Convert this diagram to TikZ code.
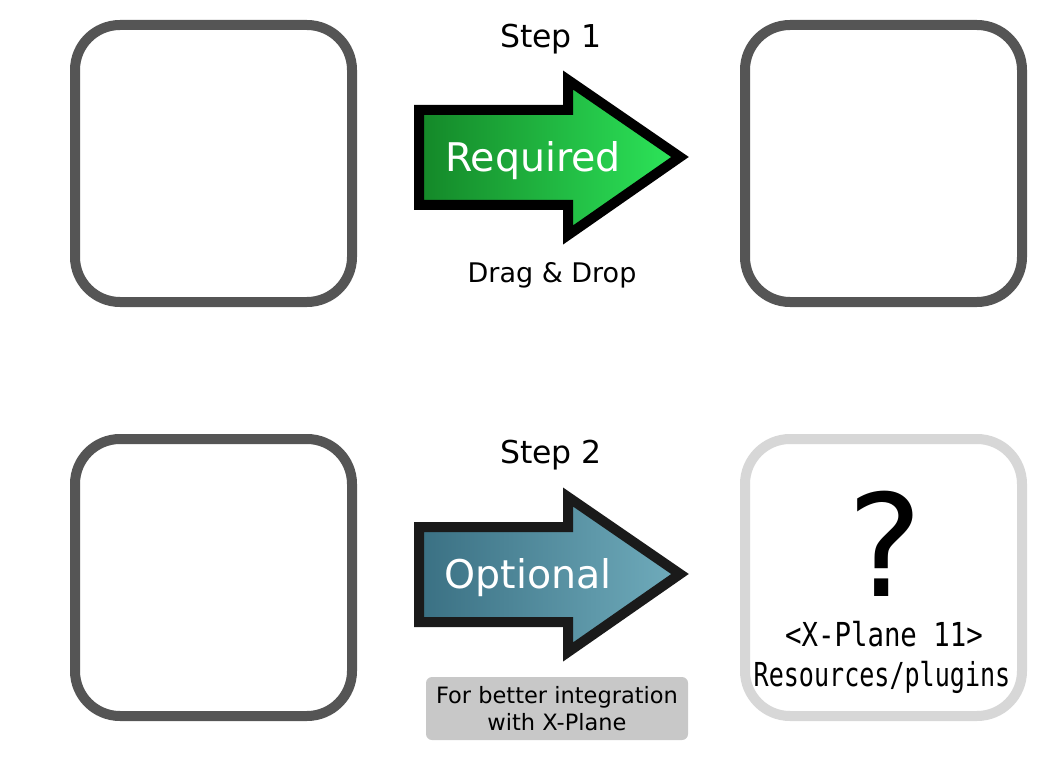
\documentclass[tikz,border=0pt]{standalone}
\usepackage{fontspec}
\setmainfont{DejaVu Sans}
\newfontfamily\dirfont[FakeStretch=0.76]{DejaVu Sans Mono}
\newfontfamily\dirfontwide[FakeStretch=0.83]{DejaVu Sans Mono}
\definecolor{boxgray}{HTML}{555555}
\definecolor{boxlight}{HTML}{D7D7D7}
\definecolor{notegray}{HTML}{C8C8C8}
\definecolor{reqdark}{RGB}{20,135,40}
\definecolor{reqlight}{RGB}{45,230,90}
\definecolor{optdark}{RGB}{58,112,131}
\definecolor{optlight}{RGB}{112,172,188}
\definecolor{optline}{HTML}{1A1A1A}

\begin{document}
\begin{tikzpicture}[x=1pt,y=-1pt,
  panel/.style={draw=boxgray,fill=white,line width=10pt,rounded corners=45pt,minimum size=277pt},
  bigarrow/.style={line width=10pt,miter limit=10},
  steplabel/.style={anchor=base,font=\fontsize{31.5}{36}\selectfont},
  arrowtext/.style={anchor=base,text=white,font=\fontsize{39.5}{46}\selectfont},
  dirlabel/.style={anchor=base,inner sep=0pt,text height=25pt,text depth=7pt}]
\useasboundingbox (0,0) rectangle (1063,762);
% the four folders
\node[panel] (src1) at (213.5,163.5) {};
\node[panel] (dst1) at (883.5,163.5) {};
\node[panel] (src2) at (213.5,577.5) {};
\node[panel,draw=boxlight] (dst2) at (883.5,577.5) {};
% step 1 -- green arrow
\draw[bigarrow,draw=black,left color=reqdark,right color=reqlight]
  (419,110) -- (568,110) -- (568,80) -- (680,157) -- (568,235) -- (568,205) -- (419,205) -- cycle;
\node[steplabel] (step1) at (551,48) {Step 1};
\node[arrowtext] (req) at (533,172) {Required};
\node[anchor=base,font=\fontsize{27}{32}\selectfont] (drag) at (552,283) {Drag \& Drop};
% step 2 -- blue arrow
\draw[bigarrow,draw=optline,left color=optdark,right color=optlight]
  (419,527) -- (568,527) -- (568,497) -- (680,574) -- (568,652) -- (568,622) -- (419,622) -- cycle;
\node[steplabel] (step2) at (551,463) {Step 2};
\node[arrowtext] (opt) at (528,588) {Optional};
\node[fill=notegray,rounded corners=6pt,minimum width=262pt,minimum height=63pt,align=center,
  font=\fontsize{22.5}{27}\selectfont] (note) at (557,708.5) {For better integration\\with X-Plane};
% destination for step 2
\node[anchor=base,inner sep=0pt,text height=105pt,text depth=0pt,font=\fontsize{142}{150}\selectfont] (qmark) at (885,596) {?};
\node[dirlabel,font=\dirfontwide\fontsize{33}{40}\selectfont] (xp) at (884,646) {<X-Plane 11>};
\node[dirlabel,font=\dirfont\fontsize{33}{40}\selectfont] (plug) at (882,686) {Resources/plugins};
\end{tikzpicture}
\end{document}
